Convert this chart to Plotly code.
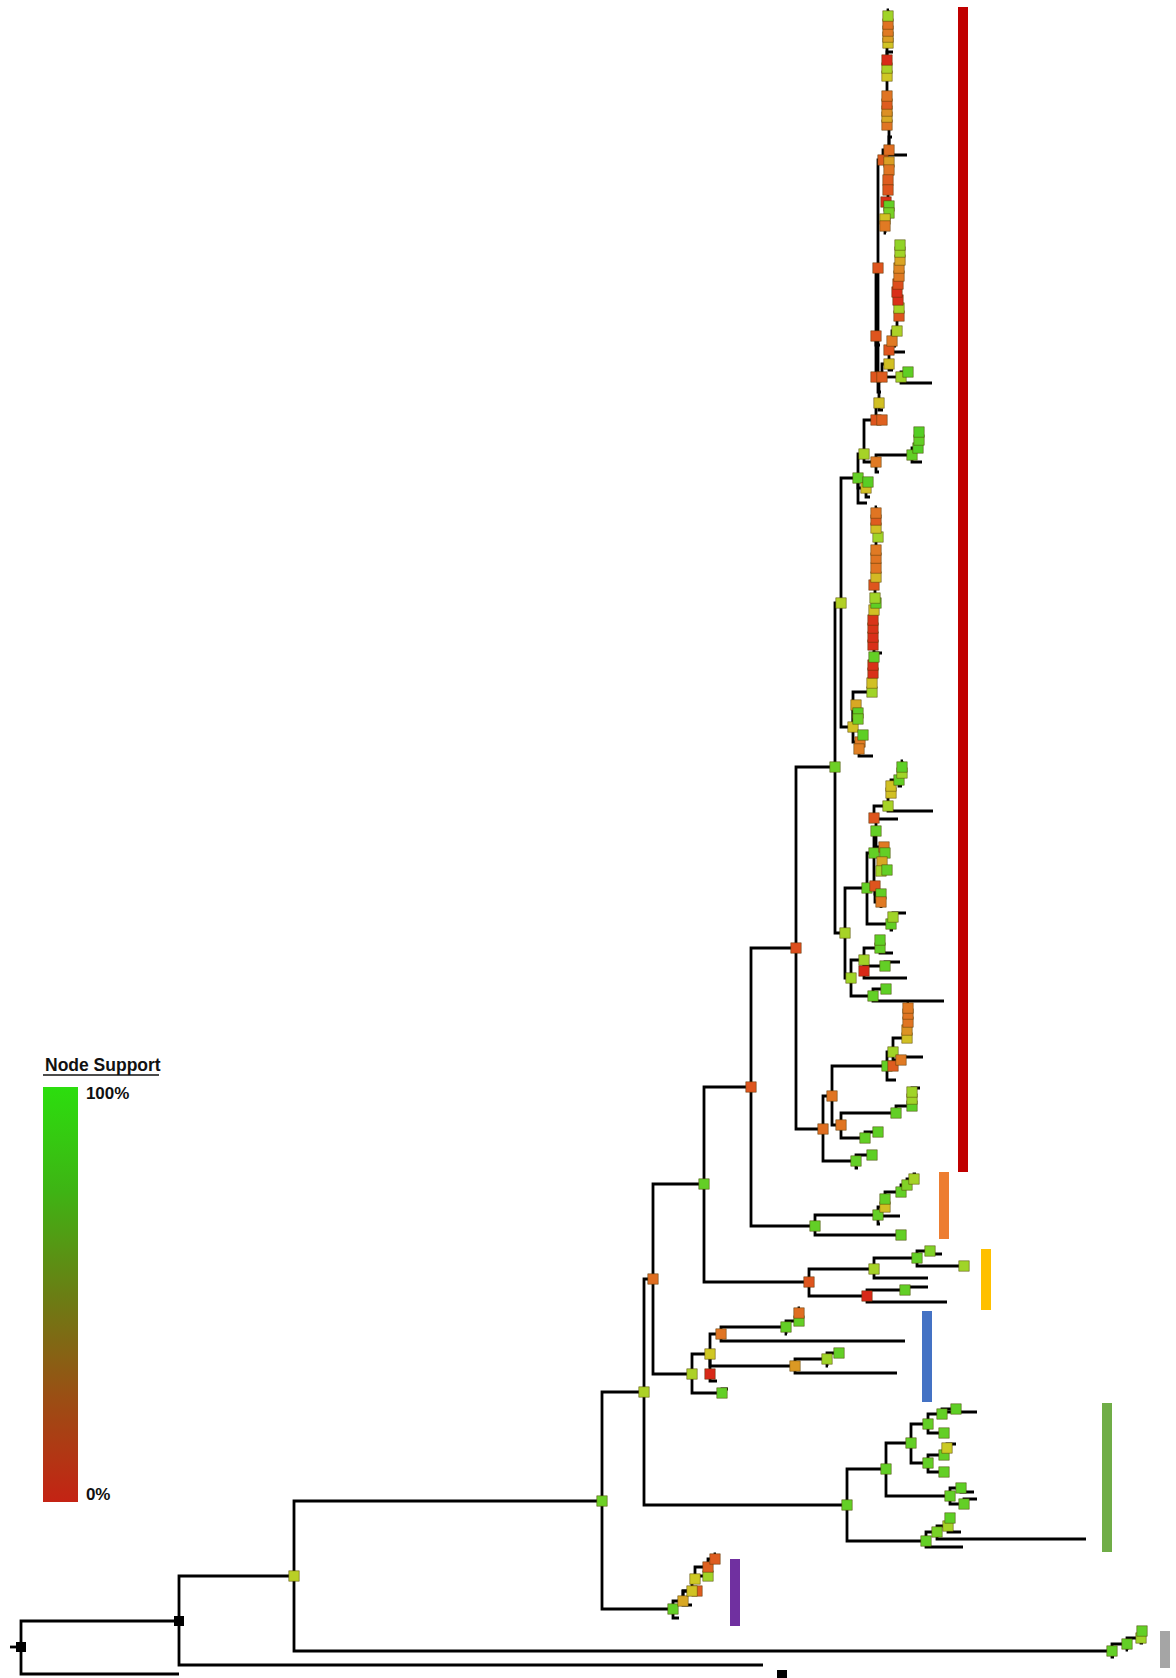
import plotly.graph_objects as go

# ---------------- tree data: (node, parent, divergence, row, support %) ----------------
# support None -> plain tip / junction without a support square
backbone = [
    ("o", None, 10, 1647, None),
    ("R0", "o", 21, 1647, None),
    ("t0", "R0", 179, 1674, None),
    ("N1", "R0", 179, 1621, None),
    ("t1", "N1", 763, 1665, None),
    ("N2", "N1", 294, 1576, 72),
    ("A", "N2", 602, 1501, 90),
    ("B", "A", 644, 1392, 76),
    ("C", "B", 653, 1279, 35),
    ("E", "C", 704, 1184, 92),
    ("E1", "E", 751, 1087, 25),
    ("E2", "E1", 796, 948, 22),
    ("E3", "E2", 835, 767, 90),
    ("E5", "E3", 841, 603, 74),
    ("F", "C", 692, 1374, 76),
]
black_nodes = ["R0", "N1"]

red_upper = [
    ("E7", "E5", 858, 478, 92),
    ("U2", "E7", 866, 488, 62),
    ("u2a", "U2", 868, 482, 94),
    ("u2t", "U2", 870, 497, None),
    ("e7t", "E7", 867, 503, None),
    ("U1", "E7", 864, 454, 78),
    ("U4", "U1", 876, 462, 40),
    ("u4t", "U4", 879, 472, None),
    ("U4a", "U4", 912, 455, 92),
    ("u4at", "U4a", 922, 462, None),
    ("u4a1", "U4a", 918, 448, 95),
    ("u4a2", "u4a1", 919, 440, 92),
    ("u4a3", "u4a2", 919, 432, 95),
    ("U3", "U1", 876, 420, 25),
    ("u3b", "U3", 882, 420, 30),
    ("U5", "U3", 879, 403, 62),
    ("u5t", "U5", 883, 410, None),
    ("U6", "U5", 876, 377, 25),
    ("U8", "U6", 882, 377, 28),
    ("U7", "U6", 876, 336, 25),
    ("u7t", "U7", 880, 345, None),
    ("U9", "U7", 878, 268, 25),
    ("u9b", "U9", 881, 392, None),
    ("U10", "U9", 883, 160, 28),
]
red_stack_a = [
    ("Ta", "U10", 889, 150, 35),
    ("tat", "Ta", 907, 155, None),
    ("tk137", "Ta", 892, 137, None),
    ("Ta1", "Ta", 887, 125, 38),
    ("Ta2", "Ta1", 887, 117, 55),
    ("Ta3", "Ta2", 887, 111, 47),
    ("Ta4", "Ta3", 887, 104, 28),
    ("Ta5", "Ta4", 887, 96, 38),
    ("Ta6", "Ta5", 887, 76, 64),
    ("Ta7", "Ta6", 887, 68, 76),
    ("Ta8", "Ta7", 887, 60, 6),
    ("tk52", "Ta8", 893, 52, None),
    ("Ta9", "Ta8", 888, 43, 63),
    ("Ta10", "Ta9", 888, 37, 52),
    ("Ta11", "Ta10", 888, 31, 40),
    ("Ta12", "Ta11", 888, 24, 37),
    ("Ta13", "Ta12", 888, 16, 80),
    ("ta13t", "Ta13", 889, 10, None),
    ("Tb", "U10", 889, 162, 52),
    ("Tb1", "Tb", 889, 170, 38),
    ("Tb2", "Tb1", 888, 180, 28),
    ("Tb3", "Tb2", 888, 190, 25),
    ("Tb4", "Tb3", 886, 202, 8),
    ("Tb5", "Tb4", 889, 206, 92),
    ("Tb6", "Tb5", 889, 213, 88),
    ("Tb7", "Tb6", 885, 219, 62),
    ("Tb8", "Tb7", 885, 226, 40),
    ("tb8t", "Tb8", 886, 233, None),
]
red_stack_b = [
    ("S2b", "U8", 901, 377, 80),
    ("s2b1", "S2b", 908, 372, 93),
    ("s2bt", "S2b", 932, 383, None),
    ("S2a", "U8", 889, 364, 62),
    ("s2at", "S2a", 893, 370, None),
    ("S2c", "S2a", 889, 350, 25),
    ("s2ct", "S2c", 905, 352, None),
    ("S2d", "S2c", 892, 341, 40),
    ("s2dt", "S2d", 896, 346, None),
    ("S2e", "S2d", 897, 331, 76),
    ("s2_1", "S2e", 899, 316, 25),
    ("s2_2", "s2_1", 899, 308, 78),
    ("s2_3", "s2_2", 898, 300, 8),
    ("s2_4", "s2_3", 897, 292, 8),
    ("s2_5", "s2_4", 898, 284, 22),
    ("s2_6", "s2_5", 899, 276, 40),
    ("s2_7", "s2_6", 899, 268, 44),
    ("s2_8", "s2_7", 900, 260, 54),
    ("s2_9", "s2_8", 900, 252, 80),
    ("s2_10", "s2_9", 900, 245, 83),
]
red_middle = [
    ("E8", "E5", 853, 727, 62),
    ("V2", "E8", 856, 705, 55),
    ("v2a", "V2", 858, 713, 93),
    ("v2b", "v2a", 858, 719, 90),
    ("V3", "E8", 860, 742, 40),
    ("v3a", "V3", 863, 735, 93),
    ("v3b", "V3", 859, 749, 42),
    ("v3t", "v3b", 873, 756, None),
    ("V1", "E8", 872, 692, 80),
    ("V1a", "V1", 872, 683, 62),
    ("V1b", "V1a", 873, 673, 8),
    ("V1c", "V1b", 873, 665, 8),
    ("V1d", "V1c", 874, 657, 92),
    ("v1dt", "V1d", 882, 653, None),
    ("V1e", "V1d", 873, 645, 8),
    ("V1f", "V1e", 873, 637, 8),
    ("V1g", "V1f", 873, 628, 10),
    ("V1h", "V1g", 873, 620, 10),
    ("V1i", "V1h", 874, 610, 62),
    ("V1j", "V1i", 876, 603, 93),
    ("V1k", "V1j", 875, 598, 80),
    ("V1l", "V1k", 874, 585, 25),
    ("V1m", "V1l", 876, 577, 60),
    ("V1n", "V1m", 876, 568, 38),
    ("V1o", "V1n", 876, 558, 38),
    ("V1p", "V1o", 876, 550, 40),
    ("V1q", "V1p", 878, 537, 80),
    ("V1r", "V1q", 876, 528, 62),
    ("V1s", "V1r", 876, 520, 28),
    ("V1t", "V1s", 876, 513, 38),
    ("v1tt", "V1t", 877, 507, None),
]
red_lower = [
    ("E6", "E3", 845, 933, 78),
    ("E9", "E6", 867, 888, 92),
    ("E10", "E9", 874, 853, 92),
    ("E12", "E10", 876, 831, 92),
    ("E13", "E10", 875, 886, 25),
    ("E14", "E12", 874, 818, 25),
    ("E15", "E12", 884, 847, 40),
    ("e14t", "E14", 898, 819, None),
    ("E16", "E14", 888, 806, 78),
    ("e16t", "E16", 933, 811, None),
    ("E17", "E16", 891, 793, 62),
    ("e17a", "E17", 891, 786, 62),
    ("E18", "E17", 899, 780, 92),
    ("e18c", "E18", 902, 786, None),
    ("e18a", "E18", 902, 773, 80),
    ("e18b", "e18a", 902, 767, 93),
    ("e18t", "e18b", 903, 761, None),
    ("e15a", "E15", 885, 853, 92),
    ("E15b", "E15", 882, 862, 55),
    ("e15c", "E15b", 881, 871, 80),
    ("e15d", "E15b", 887, 870, 92),
    ("e13a", "E13", 881, 894, 92),
    ("e13b", "E13", 881, 902, 40),
    ("e13t", "e13b", 881, 908, None),
    ("E11", "E9", 891, 924, 92),
    ("e11b", "E11", 893, 930, None),
    ("e11a", "E11", 893, 917, 80),
    ("e11t", "e11a", 906, 913, None),
    ("F0", "E6", 851, 978, 80),
    ("F1", "F0", 864, 960, 80),
    ("F2", "F0", 873, 996, 92),
    ("F3", "F1", 880, 948, 92),
    ("f3a", "F3", 880, 940, 93),
    ("f3t", "F3", 893, 953, None),
    ("F4", "F1", 864, 971, 5),
    ("f4a", "F4", 885, 966, 92),
    ("f4at", "f4a", 900, 962, None),
    ("f4t", "F4", 907, 978, None),
    ("f2a", "F2", 886, 989, 93),
    ("f2t", "F2", 944, 1001, None),
]
red_base = [
    ("E4", "E2", 823, 1129, 35),
    ("G1", "E4", 832, 1096, 38),
    ("G2", "E4", 856, 1161, 92),
    ("g2a", "G2", 872, 1155, 93),
    ("g2t", "G2", 858, 1168, None),
    ("G3", "G1", 887, 1066, 92),
    ("g3s", "G3", 893, 1066, 28),
    ("g3t", "G3", 896, 1080, None),
    ("G3a", "G3", 893, 1052, 80),
    ("G3b", "G3a", 901, 1060, 40),
    ("g3bt", "G3b", 923, 1057, None),
    ("G3c", "G3a", 907, 1038, 62),
    ("G3d", "G3c", 907, 1030, 48),
    ("G3e", "G3d", 908, 1022, 38),
    ("G3f", "G3e", 908, 1014, 38),
    ("G3g", "G3f", 908, 1008, 40),
    ("g3gt", "G3g", 909, 1003, None),
    ("G4", "G1", 841, 1125, 38),
    ("G4a", "G4", 896, 1113, 92),
    ("g4a1", "G4a", 912, 1106, 93),
    ("g4a2", "g4a1", 912, 1099, 80),
    ("g4a3", "g4a2", 912, 1092, 80),
    ("g4at", "g4a3", 920, 1088, None),
    ("G4b", "G4", 865, 1138, 92),
    ("g4b1", "G4b", 878, 1132, 93),
]
orange_clade = [
    ("O1", "E1", 815, 1226, 92),
    ("o1b", "O1", 901, 1235, 92),
    ("O2", "O1", 878, 1215, 92),
    ("o2t", "O2", 900, 1216, None),
    ("o2u", "O2", 880, 1224, None),
    ("O3", "O2", 885, 1207, 62),
    ("O4", "O3", 885, 1199, 92),
    ("O5", "O4", 901, 1192, 92),
    ("O6", "O5", 907, 1185, 86),
    ("O7", "O6", 914, 1179, 78),
    ("o7t", "O7", 916, 1174, None),
]
yellow_clade = [
    ("Y0", "E", 809, 1282, 25),
    ("Y1", "Y0", 874, 1269, 78),
    ("y1t", "Y1", 928, 1278, None),
    ("Y3", "Y1", 917, 1258, 92),
    ("y3a", "Y3", 930, 1251, 86),
    ("y3at", "y3a", 942, 1254, None),
    ("y3b", "Y3", 964, 1266, 80),
    ("Y2", "Y0", 867, 1296, 5),
    ("y2a", "Y2", 905, 1290, 92),
    ("y2at", "y2a", 928, 1287, None),
    ("y2t", "Y2", 947, 1302, None),
]
blue_clade = [
    ("G", "F", 710, 1354, 64),
    ("ft", "F", 722, 1393, 92),
    ("ft1", "ft", 728, 1389, None),
    ("H", "G", 721, 1334, 38),
    ("I", "G", 795, 1366, 50),
    ("J", "G", 710, 1374, 5),
    ("jt", "J", 717, 1381, None),
    ("ht", "H", 905, 1341, None),
    ("K", "H", 786, 1327, 92),
    ("kt", "K", 787, 1334, None),
    ("K1", "K", 799, 1321, 92),
    ("K2", "K1", 799, 1313, 35),
    ("k2t", "K2", 800, 1308, None),
    ("it", "I", 897, 1373, None),
    ("I1", "I", 827, 1359, 80),
    ("i1t", "I1", 828, 1366, None),
    ("i1a", "I1", 839, 1353, 92),
]
green_clade = [
    ("D", "B", 847, 1505, 92),
    ("D1", "D", 886, 1469, 92),
    ("D2", "D", 926, 1541, 92),
    ("D3", "D1", 911, 1443, 92),
    ("D4", "D1", 950, 1496, 92),
    ("D5", "D3", 928, 1424, 92),
    ("D6", "D3", 928, 1463, 92),
    ("d5a", "D5", 942, 1414, 92),
    ("d5t", "d5a", 977, 1412, None),
    ("d5b", "d5a", 956, 1409, 93),
    ("d5c", "D5", 944, 1433, 92),
    ("d6a", "D6", 944, 1455, 92),
    ("d6b", "d6a", 947, 1448, 66),
    ("d6t", "d6b", 956, 1444, None),
    ("d6c", "D6", 944, 1472, 92),
    ("d4a", "D4", 961, 1488, 93),
    ("d4at", "d4a", 974, 1492, None),
    ("d4b", "D4", 964, 1504, 92),
    ("d4bt", "d4b", 977, 1499, None),
    ("d2t", "D2", 963, 1547, None),
    ("d2a", "D2", 937, 1532, 88),
    ("d2at", "d2a", 1086, 1539, None),
    ("d2b", "d2a", 948, 1526, 78),
    ("d2bt", "d2b", 961, 1532, None),
    ("d2c", "d2b", 950, 1518, 93),
]
purple_clade = [
    ("P0", "A", 673, 1609, 92),
    ("p0t", "P0", 679, 1618, None),
    ("P1", "P0", 683, 1601, 55),
    ("p1t", "P1", 692, 1605, None),
    ("p1s", "P1", 697, 1591, 28),
    ("P2", "P1", 692, 1591, 63),
    ("P3", "P2", 695, 1579, 65),
    ("P4", "P3", 708, 1576, 80),
    ("P5", "P3", 708, 1567, 30),
    ("P6", "P5", 715, 1559, 28),
    ("p6t", "P6", 716, 1554, None),
]
gray_clade = [
    ("Q0", "N2", 1112, 1651, 92),
    ("q0t", "Q0", 1114, 1657, None),
    ("Q1", "Q0", 1127, 1644, 92),
    ("q1t", "Q1", 1128, 1650, None),
    ("Q2", "Q1", 1141, 1638, 80),
    ("q2t", "Q2", 1143, 1643, None),
    ("Q3", "Q2", 1142, 1631, 92),
    ("q3t", "Q3", 1142, 1626, None),
]
scale_mark_x = [782]
scale_mark_y = [1675]

# clade bars
clade_names = ["red", "orange", "yellow", "blue", "green", "purple", "gray"]
clade_top = [7, 1172, 1249, 1311, 1403, 1559, 1631]
clade_bottom = [1172, 1239, 1310, 1402, 1552, 1626, 1668]
clade_pos = [963, 944, 986, 927, 1107, 735, 1165]
clade_colors = ["#C00000", "#ED7D31", "#FFC000", "#4472C4", "#70AD47", "#7030A0", "#A5A5A5"]

# legend scale
legend_ticks = [2, 98.5]
legend_labels = ["0%", "100%"]

# ---------------- build figure ----------------
tree = (backbone + red_upper + red_stack_a + red_stack_b + red_middle + red_lower
        + red_base + orange_clade + yellow_clade + blue_clade + green_clade
        + purple_clade + gray_clade)
pos = {n: (x, y) for n, p, x, y, s in tree}

lx, ly = [], []
for n, p, x, y, s in tree:
    if p is None:
        continue
    px, py = pos[p]
    lx += [px, px, x, None]
    ly += [py, y, y, None]

node_scale = [
    [0.0, "rgb(214,30,22)"], [0.25, "rgb(222,85,30)"], [0.4, "rgb(224,122,36)"],
    [0.55, "rgb(216,168,36)"], [0.65, "rgb(206,202,36)"], [0.8, "rgb(160,212,40)"],
    [1.0, "rgb(58,204,36)"],
]
legend_scale = [
    [0.0, "rgb(196,35,20)"], [0.25, "rgb(155,78,20)"], [0.5, "rgb(106,126,20)"],
    [0.75, "rgb(62,180,20)"], [1.0, "rgb(44,222,14)"],
]

fig = go.Figure()

for i in range(len(clade_names)):
    fig.add_shape(type="rect", x0=clade_pos[i] - 5, x1=clade_pos[i] + 5,
                  y0=clade_top[i], y1=clade_bottom[i],
                  fillcolor=clade_colors[i], line_width=0, layer="below")

fig.add_trace(go.Scatter(x=lx, y=ly, mode="lines",
                         line=dict(color="black", width=2.8),
                         hoverinfo="skip", showlegend=False))

mx = [x for n, p, x, y, s in tree if s is not None]
my = [y for n, p, x, y, s in tree if s is not None]
ms = [s for n, p, x, y, s in tree if s is not None]
fig.add_trace(go.Scatter(
    x=mx, y=my, mode="markers", showlegend=False,
    marker=dict(symbol="square", size=10.5, color=ms, colorscale=node_scale,
                cmin=0, cmax=100, showscale=False,
                line=dict(color="rgba(70,50,0,0.45)", width=1))))

bx = [pos[n][0] for n in black_nodes] + scale_mark_x
by = [pos[n][1] for n in black_nodes] + scale_mark_y
fig.add_trace(go.Scatter(x=bx, y=by, mode="markers", showlegend=False,
                         marker=dict(symbol="square", size=10, color="black")))

# legend colour bar
fig.add_trace(go.Scatter(
    x=[-500], y=[-500], mode="markers", showlegend=False, hoverinfo="skip",
    marker=dict(size=1, color=[50], colorscale=legend_scale, cmin=0, cmax=100,
                showscale=True,
                colorbar=dict(x=43 / 1176, xanchor="left", xpad=0,
                              y=(1678 - 1502) / 1678, yanchor="bottom", ypad=0,
                              len=415, lenmode="pixels", thickness=35,
                              outlinewidth=0, tickvals=legend_ticks,
                              ticktext=legend_labels, ticks="outside", ticklen=5,
                              tickcolor="rgba(0,0,0,0)",
                              tickfont=dict(family="Liberation Sans, Arial", size=17,
                                            color="#111", weight="bold")))))

fig.add_annotation(x=43, y=1065, xref="x", yref="y", text="Node Support",
                   showarrow=False, xanchor="left", yanchor="middle",
                   font=dict(family="Liberation Sans, Arial", size=17.5, color="#111",
                             weight="bold"))
fig.add_shape(type="line", x0=43, x1=159, y0=1075, y1=1075,
              line=dict(color="#111", width=1.6))

fig.update_layout(
    width=1176, height=1678, margin=dict(l=0, r=0, t=0, b=0),
    paper_bgcolor="white", plot_bgcolor="white",
    xaxis=dict(range=[0, 1176], visible=False, fixedrange=True),
    yaxis=dict(range=[1678, 0], visible=False, fixedrange=True),
)

fig.write_html("out.html", config={"displayModeBar": False},
               post_script="document.body.style.margin='0';document.body.style.padding='0';")
